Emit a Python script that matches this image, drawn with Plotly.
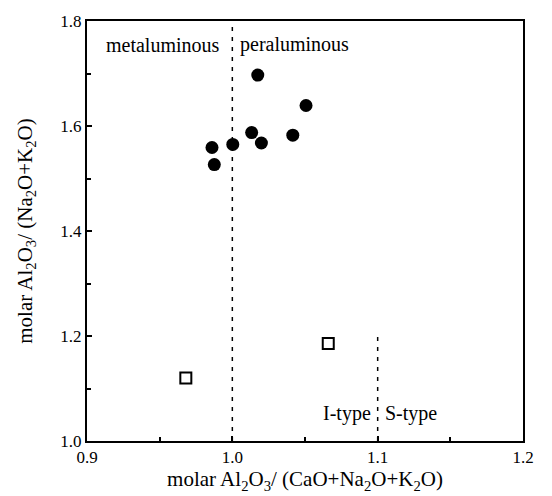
import plotly.graph_objects as go

# Data
granite_x = [1.0175, 1.0507, 1.0133, 1.0416, 1.0200, 1.0003, 0.9860, 0.9876]
granite_y = [1.697, 1.639, 1.5875, 1.5826, 1.5676, 1.565, 1.559, 1.5265]
open_x = [0.968, 1.066]
open_y = [1.120, 1.1856]

# Boundary lines
meta_per_x = [1.0, 1.0]
meta_per_y = [1.0, 1.8]
is_type_x = [1.1, 1.1]
is_type_y = [1.0, 1.2]

x_ticks = [0.9, 1.0, 1.1, 1.2]
x_ticklabels = ["0.9", "1.0", "1.1", "1.2"]
y_ticks = [1.0, 1.2, 1.4, 1.6, 1.8]
y_ticklabels = ["1.0", "1.2", "1.4", "1.6", "1.8"]

FONT = "Liberation Serif"

fig = go.Figure()
fig.add_trace(go.Scatter(x=meta_per_x, y=meta_per_y, mode="lines",
                         line=dict(color="black", width=1.5, dash="4px,6px"),
                         showlegend=False, hoverinfo="skip"))
fig.add_trace(go.Scatter(x=is_type_x, y=is_type_y, mode="lines",
                         line=dict(color="black", width=1.5, dash="4px,6px"),
                         showlegend=False, hoverinfo="skip"))
fig.add_trace(go.Scatter(x=granite_x, y=granite_y, mode="markers",
                         marker=dict(symbol="circle", size=13, color="black"),
                         showlegend=False))
fig.add_trace(go.Scatter(x=open_x, y=open_y, mode="markers",
                         marker=dict(symbol="square-open", size=11, color="black",
                                     line=dict(width=2, color="black")),
                         showlegend=False))

ann_font = dict(family=FONT, size=20, color="black")
fig.add_annotation(x=0.993, y=1.755, text="metaluminous", showarrow=False,
                   xanchor="right", yanchor="middle", font=ann_font)
fig.add_annotation(x=1.004, y=1.755, text="peraluminous", showarrow=False,
                   xanchor="left", yanchor="middle", font=ann_font)
fig.add_annotation(x=1.097, y=1.052, text="I-type", showarrow=False,
                   xanchor="right", yanchor="middle", font=ann_font)
fig.add_annotation(x=1.104, y=1.052, text="S-type", showarrow=False,
                   xanchor="left", yanchor="middle", font=ann_font)

fig.update_layout(
    width=552, height=496,
    margin=dict(l=87, r=29, t=13, b=55),
    paper_bgcolor="white", plot_bgcolor="white",
    font=dict(family=FONT, size=17, color="black"),
)
fig.update_xaxes(
    range=[0.9, 1.2], tickvals=x_ticks, ticktext=x_ticklabels,
    ticks="inside", ticklen=5, tickwidth=1.5, tickcolor="black",
    minor=dict(dtick=0.05, ticks="inside", ticklen=4, tickcolor="black"),
    showline=True, linecolor="black", linewidth=2, mirror=True,
    showgrid=False, zeroline=False,
    tickfont=dict(family=FONT, size=17),
    title=dict(text="molar Al<sub>2</sub>O<sub>3</sub>/ (CaO+Na<sub>2</sub>O+K<sub>2</sub>O)",
               font=dict(family=FONT, size=21), standoff=2),
)
fig.update_yaxes(
    range=[1.0, 1.8], tickvals=y_ticks, ticktext=y_ticklabels,
    ticks="inside", ticklen=5, tickwidth=1.5, tickcolor="black",
    minor=dict(dtick=0.1, ticks="inside", ticklen=4, tickcolor="black"),
    showline=True, linecolor="black", linewidth=2, mirror=True,
    showgrid=False, zeroline=False,
    tickfont=dict(family=FONT, size=17),
    title=dict(text="molar Al<sub>2</sub>O<sub>3</sub>/ (Na<sub>2</sub>O+K<sub>2</sub>O)",
               font=dict(family=FONT, size=21), standoff=22),
)

fig.write_html("out.html")
